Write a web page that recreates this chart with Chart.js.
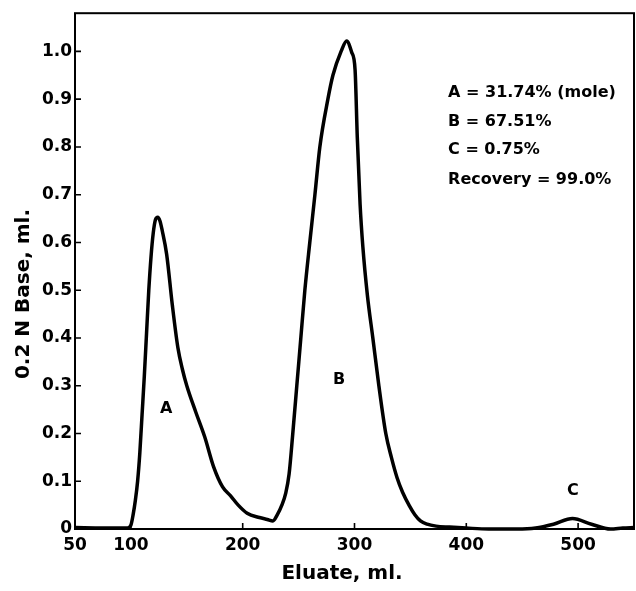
<!DOCTYPE html>
<html>
<head>
<meta charset="utf-8">
<script src="https://cdn.jsdelivr.net/npm/chart.js@4.4.1/dist/chart.umd.min.js"></script>
<style>
  html, body { margin: 0; padding: 0; background: #ffffff; }
  #wrap { width: 636px; height: 591px; position: relative; }
</style>
</head>
<body>
<div id="wrap"><canvas id="c" width="636" height="591"></canvas></div>
<script>
// ---- data ----
const eluate = [50, 75, 97, 100, 102, 104, 106, 108, 110, 112, 114, 116, 118, 120, 122, 124, 126, 128, 132, 137, 142, 146, 150, 158, 166, 174, 182, 189, 196, 204, 215, 222, 227, 231, 235, 238.5, 241.5, 244.8, 248.4, 252, 255.6, 260, 264.6, 269, 276.2, 280.7, 288, 293, 297.5, 300.5, 302.5, 305, 307.5, 311.5, 316.4, 321.8, 328, 333, 338, 343, 349, 354, 359, 365, 373, 385, 400, 420, 445, 462, 478, 495, 512, 529, 540, 550];
const baseMl = [0.003, 0.002, 0.002, 0.008, 0.03, 0.06, 0.10, 0.16, 0.24, 0.32, 0.41, 0.50, 0.57, 0.62, 0.648, 0.653, 0.645, 0.625, 0.575, 0.47, 0.38, 0.335, 0.30, 0.245, 0.193, 0.13, 0.088, 0.07, 0.05, 0.033, 0.024, 0.02, 0.017, 0.03, 0.05, 0.075, 0.115, 0.20, 0.30, 0.40, 0.50, 0.60, 0.70, 0.80, 0.90, 0.95, 1.0, 1.022, 0.998, 0.962, 0.82, 0.68, 0.59, 0.49, 0.40, 0.30, 0.20, 0.150, 0.108, 0.077, 0.049, 0.03, 0.017, 0.01, 0.006, 0.004, 0.002, 0.0, 0.0, 0.002, 0.01, 0.022, 0.01, 0.0, 0.002, 0.003];

const xTickValues = [50, 100, 200, 300, 400, 500];
const yTickValues = [0, 0.1, 0.2, 0.3, 0.4, 0.5, 0.6, 0.7, 0.8, 0.9, 1.0];
const yTickLabels = ['0', '0.1', '0.2', '0.3', '0.4', '0.5', '0.6', '0.7', '0.8', '0.9', '1.0'];

const xTitle = 'Eluate, ml.';
const yTitle = '0.2 N Base, ml.';

// peak labels placed in data coordinates
const peakLabels = ['A', 'B', 'C'];
const peakLabelX = [131.5, 286.3, 495.4];
const peakLabelY = [0.252, 0.313, 0.08];

// stats block lines
const statLines = ['A = 31.74% (mole)', 'B = 67.51%', 'C = 0.75%', 'Recovery = 99.0%'];
const statX = 383.7;
const statY = [0.913, 0.852, 0.793, 0.732];

const FONT = '"DejaVu Sans", "Liberation Sans", Arial, sans-serif';

const points = eluate.map((x, i) => ({ x: x, y: baseMl[i] }));

const decor = {
  id: 'decor',
  afterDraw(chart) {
    const ctx = chart.ctx;
    const a = chart.chartArea;
    const xs = chart.scales.x, ys = chart.scales.y;
    ctx.save();
    // frame
    ctx.strokeStyle = '#000';
    ctx.lineWidth = 2;
    ctx.strokeRect(a.left, a.top, a.right - a.left, a.bottom - a.top);
    // inward ticks
    ctx.lineWidth = 1.6;
    ctx.beginPath();
    yTickValues.forEach(v => {
      const py = ys.getPixelForValue(v);
      ctx.moveTo(a.left, py); ctx.lineTo(a.left + 6, py);
    });
    xTickValues.forEach(v => {
      const px = xs.getPixelForValue(v);
      ctx.moveTo(px, a.bottom); ctx.lineTo(px, a.bottom - 6);
    });
    ctx.stroke();

    ctx.fillStyle = '#000';
    // peak labels
    ctx.font = 'bold 16px ' + FONT;
    ctx.textAlign = 'center';
    ctx.textBaseline = 'middle';
    peakLabels.forEach((t, i) => {
      ctx.fillText(t, xs.getPixelForValue(peakLabelX[i]), ys.getPixelForValue(peakLabelY[i]));
    });
    // stats block
    ctx.textAlign = 'left';
    statLines.forEach((t, i) => {
      ctx.fillText(t, xs.getPixelForValue(statX), ys.getPixelForValue(statY[i]));
    });
    // axis titles
    ctx.font = 'bold 20px ' + FONT;
    ctx.textAlign = 'center';
    ctx.textBaseline = 'middle';
    ctx.fillText(xTitle, 342, 574);
    ctx.translate(24, 294);
    ctx.rotate(-Math.PI / 2);
    ctx.fillText(yTitle, 0, 0);
    ctx.restore();
  }
};

new Chart(document.getElementById('c'), {
  type: 'line',
  data: {
    datasets: [{
      data: points,
      borderColor: '#000',
      borderWidth: 3.5,
      pointRadius: 0,
      fill: false,
      cubicInterpolationMode: 'monotone',
      clip: false
    }]
  },
  options: {
    responsive: false,
    animation: false,
    devicePixelRatio: 1,
    layout: { padding: { top: 11, right: 2, bottom: 0, left: 0 } },
    plugins: { legend: { display: false }, tooltip: { enabled: false } },
    scales: {
      x: {
        type: 'linear',
        min: 50, max: 550,
        grid: { display: false, drawTicks: false },
        border: { display: false },
        afterBuildTicks: s => { s.ticks = xTickValues.map(v => ({ value: v })); },
        afterFit: s => { s.height = 62; },
        ticks: {
          padding: 6,
          color: '#000',
          font: { family: FONT, size: 17, weight: 'bold' },
          maxRotation: 0,
          callback: v => String(v)
        }
      },
      y: {
        type: 'linear',
        min: 0, max: 1.08,
        grid: { display: false, drawTicks: false },
        border: { display: false },
        afterBuildTicks: s => { s.ticks = yTickValues.map(v => ({ value: v })); },
        afterFit: s => { s.width = 75; },
        ticks: {
          padding: 3,
          color: '#000',
          font: { family: FONT, size: 17, weight: 'bold' },
          callback: (v) => { const i = yTickValues.indexOf(v); return i >= 0 ? yTickLabels[i] : ''; }
        }
      }
    }
  },
  plugins: [decor]
});
</script>
</body>
</html>
